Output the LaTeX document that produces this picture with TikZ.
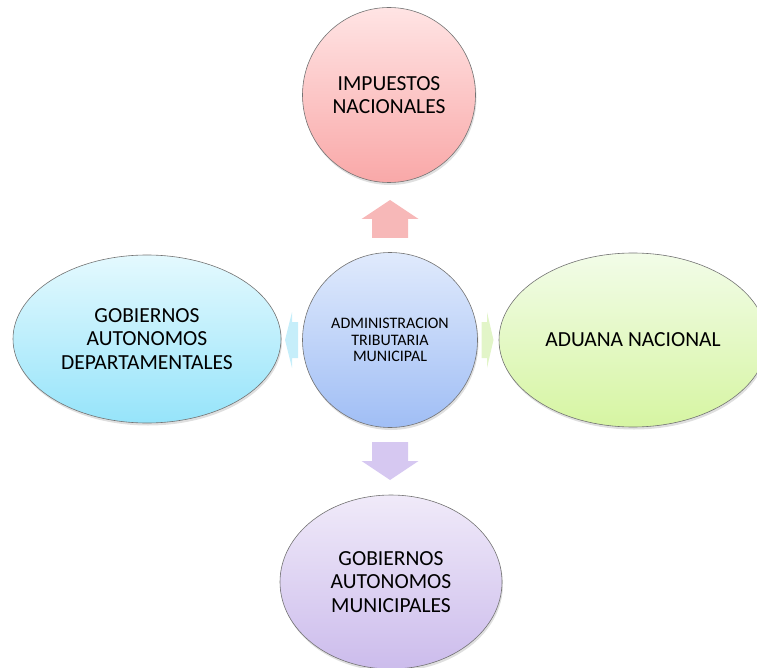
\documentclass[tikz,border=0pt]{standalone}
\usepackage{fontspec}
\setmainfont{Carlito}
\usetikzlibrary{shapes.geometric,shadows}
\definecolor{rosaA}{RGB}{255,228,228}
\definecolor{rosaB}{RGB}{249,168,168}
\definecolor{azulA}{RGB}{224,234,252}
\definecolor{azulB}{RGB}{160,190,245}
\definecolor{celesteA}{RGB}{228,249,254}
\definecolor{celesteB}{RGB}{150,228,250}
\definecolor{verdeA}{RGB}{242,252,232}
\definecolor{verdeB}{RGB}{214,245,162}
\definecolor{lilaA}{RGB}{240,234,249}
\definecolor{lilaB}{RGB}{204,188,236}
\definecolor{flechaRosa}{RGB}{247,184,184}
\definecolor{flechaLila}{RGB}{214,200,241}
\definecolor{flechaCeleste}{RGB}{198,238,250}
\definecolor{flechaVerde}{RGB}{226,245,200}
\begin{document}
\begin{tikzpicture}[x=1pt,y=-1pt,
		burbuja/.style={ellipse, draw=black!55, line width=0.6pt, inner sep=0pt, align=center,
			font=\fontsize{21.5}{23.5}\selectfont,
			drop shadow={opacity=0.25, shadow xshift=1pt, shadow yshift=-2.5pt}}]
	\useasboundingbox (0,0) rectangle (757,668);
	\clip (0,0) rectangle (757,668);
	\node[burbuja, top color=azulA, bottom color=azulB, minimum width=175pt, minimum height=175pt,
		font=\fontsize{16}{16.7}\selectfont] at (390,340) (atm) {ADMINISTRACION\\TRIBUTARIA\\MUNICIPAL};
	\node[burbuja, top color=rosaA, bottom color=rosaB, minimum width=173pt, minimum height=175pt] at (389,95) (imp) {IMPUESTOS\\NACIONALES};
	\node[burbuja, top color=celesteA, bottom color=celesteB, minimum width=268pt, minimum height=168pt] at (147,339) (depto) {GOBIERNOS\\AUTONOMOS\\DEPARTAMENTALES};
	\node[burbuja, top color=verdeA, bottom color=verdeB, minimum width=268pt, minimum height=174pt] at (633,340) (aduana) {ADUANA NACIONAL};
	\node[burbuja, top color=lilaA, bottom color=lilaB, minimum width=222pt, minimum height=174pt] at (391,582) (muni) {GOBIERNOS\\AUTONOMOS\\MUNICIPALES};
	\fill[flechaRosa, shift={(atm.center)}, rotate=90] (102,-18) -- (121,-18) -- (121,-28.5) -- (140,0) -- (121,28.5) -- (121,18) -- (102,18) -- cycle;
	\fill[flechaLila, shift={(atm.center)}, rotate=-90] (102,-18) -- (121,-18) -- (121,-28.5) -- (140,0) -- (121,28.5) -- (121,18) -- (102,18) -- cycle;
	\fill[flechaCeleste, shift={(atm.center)}, rotate=180] (92,-18) -- (98,-18) -- (98,-28) -- (105,0) -- (98,28) -- (98,18) -- (92,18) -- cycle;
	\fill[flechaVerde, shift={(atm.center)}] (91.5,-18) -- (97,-18) -- (97,-28) -- (103.5,0) -- (97,28) -- (97,18) -- (91.5,18) -- cycle;
\end{tikzpicture}
\end{document}
